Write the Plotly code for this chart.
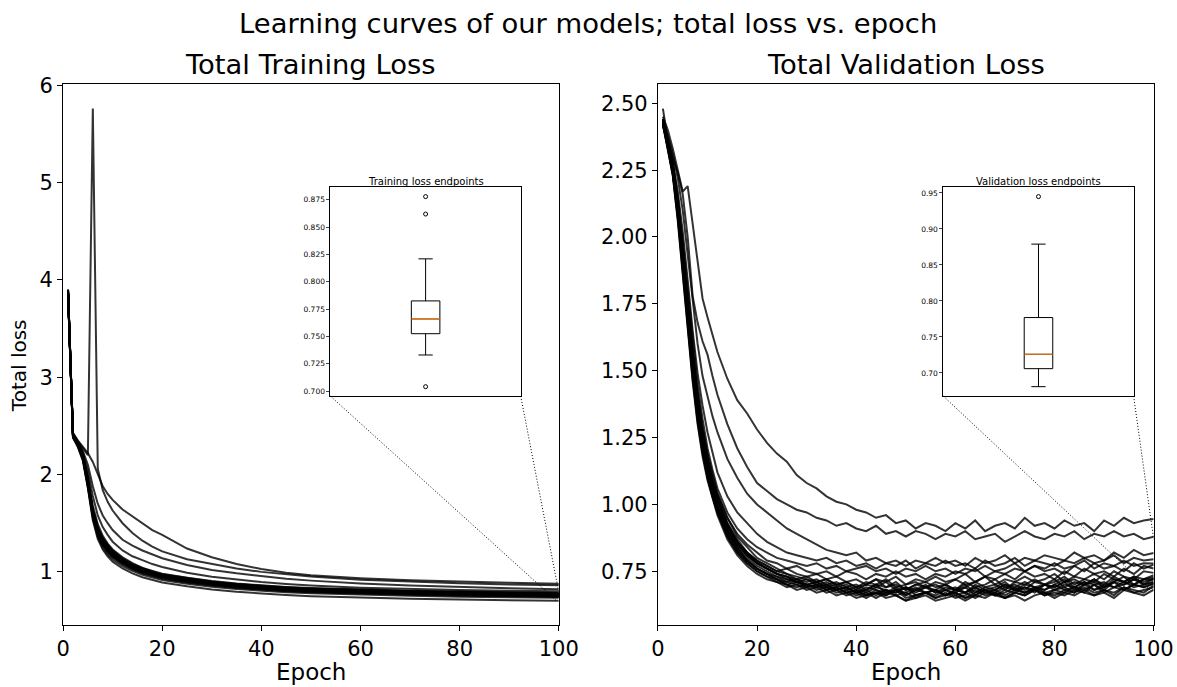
import numpy as np
import plotly.graph_objects as go

# ---------------- data ----------------
TRAIN_EPOCHS = [1, 2, 3, 4, 5, 6, 7, 8, 9, 10, 12, 14, 16, 18, 20, 25, 30, 35, 40, 45, 50, 60, 70, 80, 90, 100]

TRAIN_LOSS = [
    [3.87, 2.43, 2.35, 2.28, 2.22, 2.13, 2.00, 1.88, 1.80, 1.74, 1.64, 1.57, 1.50, 1.43, 1.38, 1.24, 1.15, 1.08, 1.03, 0.99, 0.965, 0.935, 0.915, 0.90, 0.888, 0.878],
    [3.88, 2.42, 2.34, 2.27, 2.20, 5.76, 2.06, 1.84, 1.72, 1.63, 1.50, 1.40, 1.32, 1.26, 1.21, 1.13, 1.08, 1.035, 1.00, 0.975, 0.953, 0.920, 0.898, 0.882, 0.871, 0.862],
    [3.86, 2.41, 2.33, 2.24, 2.10, 1.88, 1.70, 1.58, 1.50, 1.43, 1.33, 1.27, 1.22, 1.18, 1.14, 1.07, 1.02, 0.985, 0.955, 0.93, 0.91, 0.88, 0.86, 0.844, 0.831, 0.821],
    [3.89, 2.40, 2.32, 2.22, 2.04, 1.78, 1.58, 1.46, 1.38, 1.31, 1.22, 1.16, 1.12, 1.08, 1.05, 0.99, 0.95, 0.92, 0.895, 0.875, 0.86, 0.838, 0.824, 0.813, 0.806, 0.800],
    [3.86, 2.42, 2.33, 2.21, 1.98, 1.68, 1.49, 1.37, 1.29, 1.23, 1.15, 1.09, 1.04, 1.01, 0.98, 0.94, 0.905, 0.88, 0.86, 0.845, 0.833, 0.817, 0.806, 0.797, 0.790, 0.783],
    [3.90, 2.41, 2.32, 2.20, 1.95, 1.64, 1.46, 1.35, 1.28, 1.22, 1.14, 1.08, 1.04, 1.00, 0.975, 0.935, 0.90, 0.875, 0.855, 0.842, 0.830, 0.815, 0.804, 0.795, 0.788, 0.782],
    [3.87, 2.39, 2.31, 2.19, 1.94, 1.63, 1.45, 1.34, 1.27, 1.21, 1.13, 1.075, 1.035, 1.00, 0.97, 0.93, 0.897, 0.872, 0.852, 0.838, 0.826, 0.811, 0.800, 0.791, 0.784, 0.778],
    [3.89, 2.40, 2.30, 2.18, 1.92, 1.61, 1.43, 1.32, 1.25, 1.19, 1.12, 1.065, 1.025, 0.99, 0.965, 0.925, 0.893, 0.868, 0.848, 0.834, 0.822, 0.807, 0.796, 0.787, 0.780, 0.774],
    [3.85, 2.38, 2.30, 2.18, 1.91, 1.60, 1.42, 1.31, 1.24, 1.18, 1.11, 1.06, 1.02, 0.985, 0.96, 0.92, 0.889, 0.864, 0.844, 0.830, 0.818, 0.803, 0.792, 0.783, 0.776, 0.770],
    [3.88, 2.41, 2.32, 2.20, 1.94, 1.63, 1.44, 1.33, 1.26, 1.20, 1.12, 1.06, 1.02, 0.985, 0.958, 0.918, 0.886, 0.861, 0.841, 0.827, 0.815, 0.800, 0.789, 0.780, 0.773, 0.767],
    [3.90, 2.40, 2.31, 2.19, 1.93, 1.62, 1.44, 1.33, 1.26, 1.20, 1.12, 1.06, 1.02, 0.99, 0.96, 0.92, 0.885, 0.86, 0.84, 0.826, 0.813, 0.798, 0.787, 0.778, 0.771, 0.765],
    [3.86, 2.39, 2.30, 2.17, 1.90, 1.59, 1.41, 1.30, 1.23, 1.17, 1.10, 1.05, 1.01, 0.98, 0.953, 0.914, 0.882, 0.857, 0.838, 0.824, 0.812, 0.797, 0.786, 0.777, 0.770, 0.764],
    [3.89, 2.42, 2.33, 2.21, 1.95, 1.64, 1.45, 1.33, 1.25, 1.19, 1.11, 1.055, 1.015, 0.982, 0.955, 0.915, 0.880, 0.855, 0.835, 0.821, 0.809, 0.794, 0.783, 0.774, 0.767, 0.761],
    [3.87, 2.40, 2.31, 2.18, 1.92, 1.61, 1.42, 1.31, 1.24, 1.18, 1.105, 1.05, 1.01, 0.978, 0.951, 0.911, 0.877, 0.852, 0.832, 0.818, 0.806, 0.791, 0.780, 0.771, 0.764, 0.758],
    [3.88, 2.39, 2.30, 2.17, 1.90, 1.58, 1.40, 1.29, 1.22, 1.165, 1.095, 1.04, 1.00, 0.97, 0.944, 0.905, 0.872, 0.847, 0.827, 0.813, 0.801, 0.786, 0.775, 0.766, 0.759, 0.753],
    [3.90, 2.41, 2.32, 2.19, 1.92, 1.60, 1.41, 1.30, 1.23, 1.17, 1.10, 1.045, 1.005, 0.972, 0.945, 0.905, 0.871, 0.846, 0.826, 0.812, 0.800, 0.785, 0.774, 0.765, 0.758, 0.752],
    [3.86, 2.38, 2.29, 2.16, 1.89, 1.57, 1.39, 1.28, 1.21, 1.155, 1.085, 1.03, 0.99, 0.96, 0.935, 0.897, 0.865, 0.841, 0.821, 0.807, 0.796, 0.781, 0.770, 0.761, 0.754, 0.748],
    [3.88, 2.40, 2.30, 2.17, 1.89, 1.57, 1.38, 1.27, 1.20, 1.15, 1.08, 1.025, 0.985, 0.955, 0.93, 0.891, 0.859, 0.835, 0.815, 0.801, 0.790, 0.775, 0.764, 0.755, 0.748, 0.742],
    [3.87, 2.39, 2.29, 2.15, 1.87, 1.55, 1.36, 1.25, 1.18, 1.13, 1.06, 1.01, 0.97, 0.94, 0.915, 0.878, 0.847, 0.824, 0.805, 0.791, 0.780, 0.765, 0.754, 0.745, 0.738, 0.733],
    [3.89, 2.38, 2.28, 2.14, 1.86, 1.53, 1.34, 1.23, 1.16, 1.105, 1.035, 0.985, 0.945, 0.915, 0.89, 0.852, 0.820, 0.796, 0.777, 0.762, 0.750, 0.735, 0.724, 0.715, 0.709, 0.704],
]

VAL_EPOCHS = [1, 2, 3, 4, 5, 6, 7, 8, 9, 10, 11, 12,
              14, 16, 18, 20, 22, 24, 26, 28, 30, 32, 34,
              36, 38, 40, 42, 44, 46, 48, 50, 52, 54, 56,
              58, 60, 62, 64, 66, 68, 70, 72, 74, 76, 78,
              80, 82, 84, 86, 88, 90, 92, 94, 96, 98, 100]

VAL_LOSS = [
    [2.45, 2.40, 2.33, 2.25, 2.17, 2.19, 2.05, 1.90, 1.77, 1.70, 1.63, 1.57,
     1.47, 1.39, 1.34, 1.28, 1.23, 1.19, 1.16, 1.11, 1.08, 1.06, 1.03,
     1.01, 1.00, 0.98, 0.97, 0.95, 0.96, 0.93, 0.94, 0.91, 0.93, 0.92,
     0.90, 0.93, 0.91, 0.94, 0.90, 0.92, 0.93, 0.91, 0.95, 0.92, 0.93,
     0.91, 0.94, 0.92, 0.93, 0.90, 0.94, 0.92, 0.95, 0.93, 0.94, 0.945],
    [2.43, 2.37, 2.30, 2.24, 2.16, 2.00, 1.78, 1.68, 1.61, 1.56, 1.48, 1.41,
     1.30, 1.21, 1.14, 1.08, 1.05, 1.02, 1.00, 0.98, 0.97, 0.95, 0.94,
     0.92, 0.93, 0.91, 0.90, 0.92, 0.89, 0.90, 0.88, 0.90, 0.89, 0.87,
     0.89, 0.88, 0.90, 0.87, 0.88, 0.89, 0.86, 0.88, 0.90, 0.88, 0.87,
     0.89, 0.88, 0.90, 0.87, 0.89, 0.88, 0.90, 0.88, 0.89, 0.87, 0.879],
    [2.44, 2.38, 2.31, 2.22, 2.10, 1.93, 1.75, 1.60, 1.48, 1.40, 1.33, 1.27,
     1.17, 1.10, 1.04, 1.00, 0.97, 0.94, 0.91, 0.89, 0.87, 0.85, 0.83,
     0.82, 0.81, 0.82, 0.79, 0.80, 0.78, 0.79, 0.77, 0.79, 0.78, 0.80,
     0.78, 0.79, 0.77, 0.80, 0.78, 0.79, 0.81, 0.78, 0.80, 0.79, 0.81,
     0.80, 0.79, 0.82, 0.80, 0.81, 0.79, 0.82, 0.80, 0.83, 0.81, 0.818],
    [2.43, 2.36, 2.28, 2.17, 2.02, 1.84, 1.65, 1.49, 1.37, 1.27, 1.19, 1.12,
     1.03, 0.97, 0.93, 0.89, 0.86, 0.84, 0.82, 0.81, 0.80, 0.79, 0.80,
     0.78, 0.79, 0.77, 0.78, 0.76, 0.78, 0.77, 0.79, 0.76, 0.78, 0.77,
     0.79, 0.77, 0.78, 0.76, 0.79, 0.77, 0.78, 0.80, 0.77, 0.79, 0.78,
     0.77, 0.79, 0.78, 0.80, 0.78, 0.79, 0.81, 0.78, 0.80, 0.79, 0.795],
    [2.42, 2.36, 2.28, 2.15, 1.99, 1.81, 1.62, 1.45, 1.32, 1.21, 1.13, 1.06,
     0.97, 0.91, 0.87, 0.84, 0.82, 0.80, 0.79, 0.78, 0.77, 0.78, 0.76,
     0.77, 0.75, 0.76, 0.77, 0.75, 0.76, 0.74, 0.76, 0.75, 0.77, 0.75,
     0.76, 0.74, 0.76, 0.75, 0.77, 0.75, 0.76, 0.78, 0.75, 0.77, 0.76,
     0.78, 0.76, 0.77, 0.79, 0.76, 0.78, 0.77, 0.79, 0.77, 0.78, 0.779],
    [2.44, 2.35, 2.27, 2.13, 1.96, 1.77, 1.58, 1.41, 1.28, 1.18, 1.10, 1.04,
     0.95, 0.89, 0.85, 0.82, 0.79, 0.78, 0.76, 0.77, 0.75, 0.74, 0.75,
     0.73, 0.75, 0.74, 0.72, 0.74, 0.73, 0.75, 0.73, 0.74, 0.72, 0.74,
     0.73, 0.75, 0.74, 0.76, 0.73, 0.75, 0.74, 0.76, 0.75, 0.77, 0.75,
     0.76, 0.74, 0.77, 0.75, 0.78, 0.76, 0.77, 0.75, 0.78, 0.76, 0.775],
    [2.43, 2.34, 2.25, 2.10, 1.92, 1.73, 1.54, 1.38, 1.25, 1.15, 1.07, 1.01,
     0.92, 0.86, 0.82, 0.79, 0.77, 0.75, 0.76, 0.74, 0.73, 0.74, 0.72,
     0.73, 0.71, 0.72, 0.70, 0.72, 0.71, 0.73, 0.70, 0.72, 0.71, 0.73,
     0.71, 0.72, 0.74, 0.71, 0.73, 0.72, 0.74, 0.72, 0.75, 0.73, 0.74,
     0.72, 0.75, 0.73, 0.76, 0.74, 0.75, 0.73, 0.76, 0.74, 0.77, 0.760],
    [2.42, 2.33, 2.24, 2.09, 1.90, 1.70, 1.51, 1.35, 1.23, 1.13, 1.05, 0.99,
     0.91, 0.85, 0.81, 0.78, 0.76, 0.74, 0.73, 0.72, 0.73, 0.71, 0.72,
     0.70, 0.71, 0.69, 0.71, 0.70, 0.72, 0.69, 0.70, 0.71, 0.69, 0.71,
     0.70, 0.72, 0.70, 0.71, 0.73, 0.70, 0.72, 0.71, 0.73, 0.71, 0.72,
     0.74, 0.71, 0.73, 0.72, 0.74, 0.72, 0.75, 0.73, 0.72, 0.75, 0.744],
    [2.44, 2.36, 2.27, 2.12, 1.94, 1.74, 1.55, 1.39, 1.26, 1.16, 1.08, 1.02,
     0.93, 0.87, 0.82, 0.79, 0.77, 0.75, 0.74, 0.72, 0.71, 0.72, 0.70,
     0.71, 0.69, 0.70, 0.68, 0.70, 0.69, 0.71, 0.68, 0.70, 0.69, 0.68,
     0.70, 0.68, 0.69, 0.71, 0.69, 0.70, 0.68, 0.71, 0.70, 0.72, 0.70,
     0.71, 0.73, 0.70, 0.72, 0.71, 0.74, 0.72, 0.71, 0.73, 0.72, 0.735],
    [2.43, 2.35, 2.26, 2.11, 1.93, 1.73, 1.53, 1.36, 1.23, 1.13, 1.05, 0.99,
     0.90, 0.84, 0.80, 0.77, 0.75, 0.73, 0.72, 0.71, 0.70, 0.71, 0.69,
     0.70, 0.68, 0.69, 0.67, 0.69, 0.68, 0.67, 0.69, 0.68, 0.70, 0.67,
     0.69, 0.68, 0.70, 0.67, 0.69, 0.68, 0.70, 0.69, 0.71, 0.69, 0.70,
     0.72, 0.69, 0.71, 0.70, 0.72, 0.70, 0.73, 0.71, 0.70, 0.72, 0.728],
    [2.48, 2.36, 2.27, 2.13, 1.96, 1.77, 1.58, 1.42, 1.29, 1.19, 1.11, 1.04,
     0.95, 0.88, 0.84, 0.80, 0.78, 0.76, 0.74, 0.73, 0.72, 0.71, 0.72,
     0.70, 0.71, 0.69, 0.70, 0.72, 0.69, 0.70, 0.68, 0.70, 0.71, 0.69,
     0.70, 0.68, 0.71, 0.69, 0.70, 0.72, 0.69, 0.70, 0.68, 0.71, 0.70,
     0.69, 0.71, 0.72, 0.70, 0.71, 0.69, 0.72, 0.71, 0.73, 0.70, 0.724],
    [2.42, 2.34, 2.24, 2.08, 1.89, 1.69, 1.49, 1.33, 1.21, 1.11, 1.04, 0.98,
     0.89, 0.83, 0.79, 0.76, 0.74, 0.73, 0.71, 0.72, 0.70, 0.69, 0.70,
     0.68, 0.69, 0.67, 0.69, 0.68, 0.66, 0.68, 0.67, 0.69, 0.67, 0.68,
     0.66, 0.68, 0.67, 0.69, 0.67, 0.68, 0.70, 0.68, 0.69, 0.67, 0.70,
     0.69, 0.71, 0.68, 0.70, 0.72, 0.69, 0.71, 0.70, 0.72, 0.71, 0.722],
    [2.44, 2.35, 2.25, 2.10, 1.91, 1.71, 1.52, 1.36, 1.24, 1.14, 1.06, 1.00,
     0.91, 0.85, 0.81, 0.78, 0.76, 0.74, 0.73, 0.71, 0.72, 0.70, 0.71,
     0.69, 0.70, 0.68, 0.70, 0.69, 0.71, 0.68, 0.69, 0.67, 0.69, 0.70,
     0.68, 0.69, 0.67, 0.70, 0.68, 0.69, 0.71, 0.68, 0.70, 0.69, 0.68,
     0.70, 0.72, 0.69, 0.71, 0.70, 0.68, 0.71, 0.73, 0.70, 0.72, 0.718],
    [2.43, 2.33, 2.23, 2.07, 1.88, 1.67, 1.47, 1.31, 1.19, 1.10, 1.03, 0.97,
     0.88, 0.82, 0.78, 0.75, 0.73, 0.72, 0.70, 0.71, 0.69, 0.70, 0.68,
     0.69, 0.67, 0.68, 0.66, 0.68, 0.67, 0.69, 0.66, 0.68, 0.67, 0.66,
     0.68, 0.66, 0.67, 0.69, 0.67, 0.66, 0.68, 0.67, 0.69, 0.68, 0.70,
     0.68, 0.70, 0.69, 0.67, 0.70, 0.71, 0.69, 0.70, 0.72, 0.70, 0.712],
    [2.42, 2.35, 2.26, 2.11, 1.93, 1.74, 1.55, 1.39, 1.26, 1.16, 1.08, 1.02,
     0.92, 0.86, 0.81, 0.78, 0.76, 0.74, 0.72, 0.71, 0.70, 0.69, 0.70,
     0.68, 0.69, 0.67, 0.68, 0.70, 0.67, 0.68, 0.66, 0.68, 0.69, 0.67,
     0.68, 0.67, 0.69, 0.66, 0.68, 0.67, 0.69, 0.68, 0.67, 0.69, 0.68,
     0.70, 0.68, 0.69, 0.71, 0.68, 0.70, 0.69, 0.71, 0.69, 0.70, 0.707],
    [2.44, 2.34, 2.24, 2.09, 1.90, 1.70, 1.50, 1.34, 1.22, 1.12, 1.04, 0.98,
     0.89, 0.83, 0.79, 0.76, 0.74, 0.72, 0.71, 0.70, 0.69, 0.70, 0.68,
     0.69, 0.67, 0.68, 0.66, 0.67, 0.68, 0.66, 0.67, 0.65, 0.67, 0.68,
     0.66, 0.67, 0.65, 0.67, 0.68, 0.66, 0.67, 0.69, 0.67, 0.68, 0.66,
     0.68, 0.69, 0.67, 0.70, 0.68, 0.69, 0.71, 0.68, 0.70, 0.69, 0.705],
    [2.43, 2.36, 2.27, 2.13, 1.95, 1.75, 1.56, 1.40, 1.27, 1.17, 1.09, 1.03,
     0.93, 0.86, 0.82, 0.78, 0.76, 0.74, 0.73, 0.71, 0.70, 0.71, 0.69,
     0.68, 0.69, 0.67, 0.68, 0.66, 0.68, 0.67, 0.69, 0.66, 0.67, 0.68,
     0.66, 0.68, 0.67, 0.65, 0.67, 0.68, 0.66, 0.68, 0.67, 0.69, 0.67,
     0.68, 0.67, 0.69, 0.68, 0.70, 0.67, 0.69, 0.68, 0.70, 0.69, 0.702],
    [2.42, 2.33, 2.23, 2.06, 1.86, 1.65, 1.46, 1.30, 1.18, 1.09, 1.02, 0.96,
     0.87, 0.81, 0.77, 0.74, 0.72, 0.71, 0.69, 0.70, 0.68, 0.69, 0.67,
     0.68, 0.66, 0.67, 0.65, 0.67, 0.66, 0.68, 0.65, 0.66, 0.67, 0.65,
     0.67, 0.65, 0.66, 0.68, 0.66, 0.67, 0.65, 0.67, 0.66, 0.68, 0.67,
     0.66, 0.68, 0.67, 0.69, 0.67, 0.68, 0.66, 0.69, 0.68, 0.67, 0.697],
    [2.44, 2.35, 2.25, 2.09, 1.90, 1.70, 1.51, 1.35, 1.23, 1.13, 1.05, 0.99,
     0.90, 0.84, 0.79, 0.76, 0.74, 0.72, 0.70, 0.69, 0.70, 0.68, 0.69,
     0.67, 0.68, 0.66, 0.67, 0.65, 0.67, 0.66, 0.64, 0.66, 0.67, 0.65,
     0.66, 0.67, 0.65, 0.66, 0.68, 0.66, 0.65, 0.67, 0.66, 0.68, 0.66,
     0.67, 0.66, 0.68, 0.67, 0.66, 0.68, 0.67, 0.69, 0.67, 0.68, 0.690],
    [2.43, 2.34, 2.24, 2.08, 1.89, 1.68, 1.48, 1.32, 1.20, 1.10, 1.03, 0.97,
     0.88, 0.82, 0.78, 0.75, 0.73, 0.71, 0.70, 0.68, 0.69, 0.67, 0.68,
     0.66, 0.67, 0.65, 0.66, 0.67, 0.65, 0.66, 0.64, 0.65, 0.66, 0.64,
     0.65, 0.66, 0.64, 0.66, 0.65, 0.67, 0.65, 0.66, 0.64, 0.66, 0.67,
     0.65, 0.67, 0.66, 0.68, 0.66, 0.67, 0.65, 0.68, 0.67, 0.66, 0.681],
]

X_TICKS = [0, 20, 40, 60, 80, 100]
TRAIN_Y_TICKS = [1, 2, 3, 4, 5, 6]
VAL_Y_TICKS = [0.75, 1.00, 1.25, 1.50, 1.75, 2.00, 2.25, 2.50]
TRAIN_INSET_TICKS = [0.700, 0.725, 0.750, 0.775, 0.800, 0.825, 0.850, 0.875]
VAL_INSET_TICKS = [0.70, 0.75, 0.80, 0.85, 0.90, 0.95]

SUPTITLE = "Learning curves of our models; total loss vs. epoch"
TITLES = ["Total Training Loss", "Total Validation Loss"]
INSET_TITLES = ["Training loss endpoints", "Validation loss endpoints"]
X_LABEL = "Epoch"
Y_LABEL = "Total loss"

# zoom-indicator target points in data coordinates (left, right) per panel
TRAIN_ZOOM_TARGETS = [(99.6, 0.70), (100.0, 0.79)]
VAL_ZOOM_TARGETS = [(99.3, 0.68), (100.0, 0.87)]

# ---------------- layout geometry ----------------
# Target positions are given in pixels of the final picture; the page shows the
# figure offset and slightly scaled, so they are mapped back to figure pixels.
W, H = 1195, 687
OX, OY = 8.0, 10.0
SX, SY = 0.976, 0.985
FONT = "DejaVu Sans"
LINE_COLOR = "rgba(0,0,0,0.8)"


def fig_px(px):
    return (px - OX) / SX


def fig_py(py):
    return (py - OY) / SY


def fx(px):
    return fig_px(px) / W


def fy(py):
    return 1 - fig_py(py) / H


AX_TOP, AX_BOT = 84, 625
L_X = (64, 559)
R_X = (658, 1153)
IN_TOP, IN_BOT = 187, 396
IL_X = (331, 521)
IR_X = (943, 1133)


def padded(vals):
    lo, hi = min(vals), max(vals)
    p = 0.05 * (hi - lo)
    return [lo - p, hi + p]


train_all = [v for c in TRAIN_LOSS for v in c]
val_all = [v for c in VAL_LOSS for v in c]
train_yr = padded(train_all)
val_yr = padded(val_all)
train_end = [c[-1] for c in TRAIN_LOSS]
val_end = [c[-1] for c in VAL_LOSS]
train_in_yr = padded(train_end)
val_in_yr = padded(val_end)

fig = go.Figure()

for c in TRAIN_LOSS:
    fig.add_trace(go.Scatter(x=TRAIN_EPOCHS, y=c, mode="lines",
                             line=dict(color=LINE_COLOR, width=2),
                             xaxis="x", yaxis="y", hoverinfo="skip"))
for c in VAL_LOSS:
    fig.add_trace(go.Scatter(x=VAL_EPOCHS, y=c, mode="lines",
                             line=dict(color=LINE_COLOR, width=2),
                             xaxis="x2", yaxis="y2", hoverinfo="skip"))

for ends, xa, ya in [(train_end, "x3", "y3"), (val_end, "x4", "y4")]:
    fig.add_trace(go.Box(y=ends, x0=1, width=0.15, boxpoints="outliers",
                         jitter=0, pointpos=0, whiskerwidth=0.5,
                         quartilemethod="linear",
                         fillcolor="rgba(255,255,255,0)",
                         line=dict(color="black", width=1),
                         marker=dict(symbol="circle-open", size=4, color="black",
                                     line=dict(width=1)),
                         xaxis=xa, yaxis=ya, hoverinfo="skip"))
    med = float(np.median(ends))
    fig.add_trace(go.Scatter(x=[1 - 0.075, 1 + 0.075], y=[med, med], mode="lines",
                             line=dict(color="#ff7f0e", width=1.2),
                             xaxis=xa, yaxis=ya, hoverinfo="skip"))

main_axis = dict(showline=True, mirror=True, linecolor="black", linewidth=1,
                 ticks="outside", ticklen=5, tickwidth=1, tickcolor="black",
                 showgrid=False, zeroline=False,
                 tickfont=dict(family=FONT, size=21, color="black"))
inset_axis = dict(showline=True, mirror=True, linecolor="black", linewidth=1,
                  showgrid=False, zeroline=False)

fig.update_layout(
    width=W, height=H, autosize=False,
    margin=dict(l=0, r=0, t=0, b=0),
    paper_bgcolor="white", plot_bgcolor="white",
    showlegend=False, hovermode=False,
    font=dict(family=FONT, color="black"),
    xaxis=dict(domain=[fx(L_X[0]), fx(L_X[1])], range=[0, 100], tickvals=X_TICKS, anchor="y", **main_axis),
    yaxis=dict(domain=[fy(AX_BOT), fy(AX_TOP)], range=train_yr, tickvals=TRAIN_Y_TICKS,
               anchor="x", **main_axis),
    xaxis2=dict(domain=[fx(R_X[0]), fx(R_X[1])], range=[0, 100], tickvals=X_TICKS, anchor="y2", **main_axis),
    yaxis2=dict(domain=[fy(AX_BOT), fy(AX_TOP)], range=val_yr, tickvals=VAL_Y_TICKS,
                tickformat=".2f", anchor="x2", **main_axis),
    xaxis3=dict(domain=[fx(IL_X[0]), fx(IL_X[1])], range=[0.5, 1.5], showticklabels=False, ticks="",
                anchor="y3", **inset_axis),
    yaxis3=dict(domain=[fy(IN_BOT), fy(IN_TOP)], range=train_in_yr, tickvals=TRAIN_INSET_TICKS,
                tickformat=".3f", ticks="outside", ticklen=3, tickwidth=1,
                tickfont=dict(family=FONT, size=7.5, color="black"),
                anchor="x3", **inset_axis),
    xaxis4=dict(domain=[fx(IR_X[0]), fx(IR_X[1])], range=[0.5, 1.5], showticklabels=False, ticks="",
                anchor="y4", **inset_axis),
    yaxis4=dict(domain=[fy(IN_BOT), fy(IN_TOP)], range=val_in_yr, tickvals=VAL_INSET_TICKS,
                tickformat=".2f", ticks="outside", ticklen=3, tickwidth=1,
                tickfont=dict(family=FONT, size=7.5, color="black"),
                anchor="x4", **inset_axis),
)


def ann(text, px, py, size, angle=0):
    fig.add_annotation(text=text, x=fx(px), y=fy(py), xref="paper", yref="paper",
                       showarrow=False, xanchor="center", yanchor="middle",
                       textangle=angle, font=dict(family=FONT, size=size, color="black"))


ann(SUPTITLE, 1177 / 2, 23, 27.4)
ann(TITLES[0], sum(L_X) / 2, 64, 27.4)
ann(TITLES[1], sum(R_X) / 2, 64, 27.4)
ann(X_LABEL, sum(L_X) / 2, 672, 23)
ann(X_LABEL, sum(R_X) / 2, 672, 23)
ann(Y_LABEL, 20, 366, 20, angle=-90)
ann(INSET_TITLES[0], sum(IL_X) / 2, 181, 10)
ann(INSET_TITLES[1], sum(IR_X) / 2, 181, 10)


# dotted zoom connectors: inset bottom corners -> region in main axes
def data_to_px(xv, yv, xpx, ytop, ybot, xr, yr):
    px = xpx[0] + (xv - xr[0]) / (xr[1] - xr[0]) * (xpx[1] - xpx[0])
    py = ybot - (yv - yr[0]) / (yr[1] - yr[0]) * (ybot - ytop)
    return px, py


for targets, ix, mx, yr in [(TRAIN_ZOOM_TARGETS, IL_X, L_X, train_yr),
                            (VAL_ZOOM_TARGETS, IR_X, R_X, val_yr)]:
    corners = [(ix[0], IN_BOT), (ix[1], IN_BOT)]
    for (cx, cy), (tx, ty) in zip(corners, targets):
        px, py = data_to_px(tx, ty, mx, AX_TOP, AX_BOT, [0, 100], yr)
        fig.add_shape(type="line", xref="paper", yref="paper",
                      x0=fx(cx), y0=fy(cy), x1=fx(px), y1=fy(py),
                      line=dict(color="black", width=1, dash="1px,2px"))

fig.write_html("out.html")
